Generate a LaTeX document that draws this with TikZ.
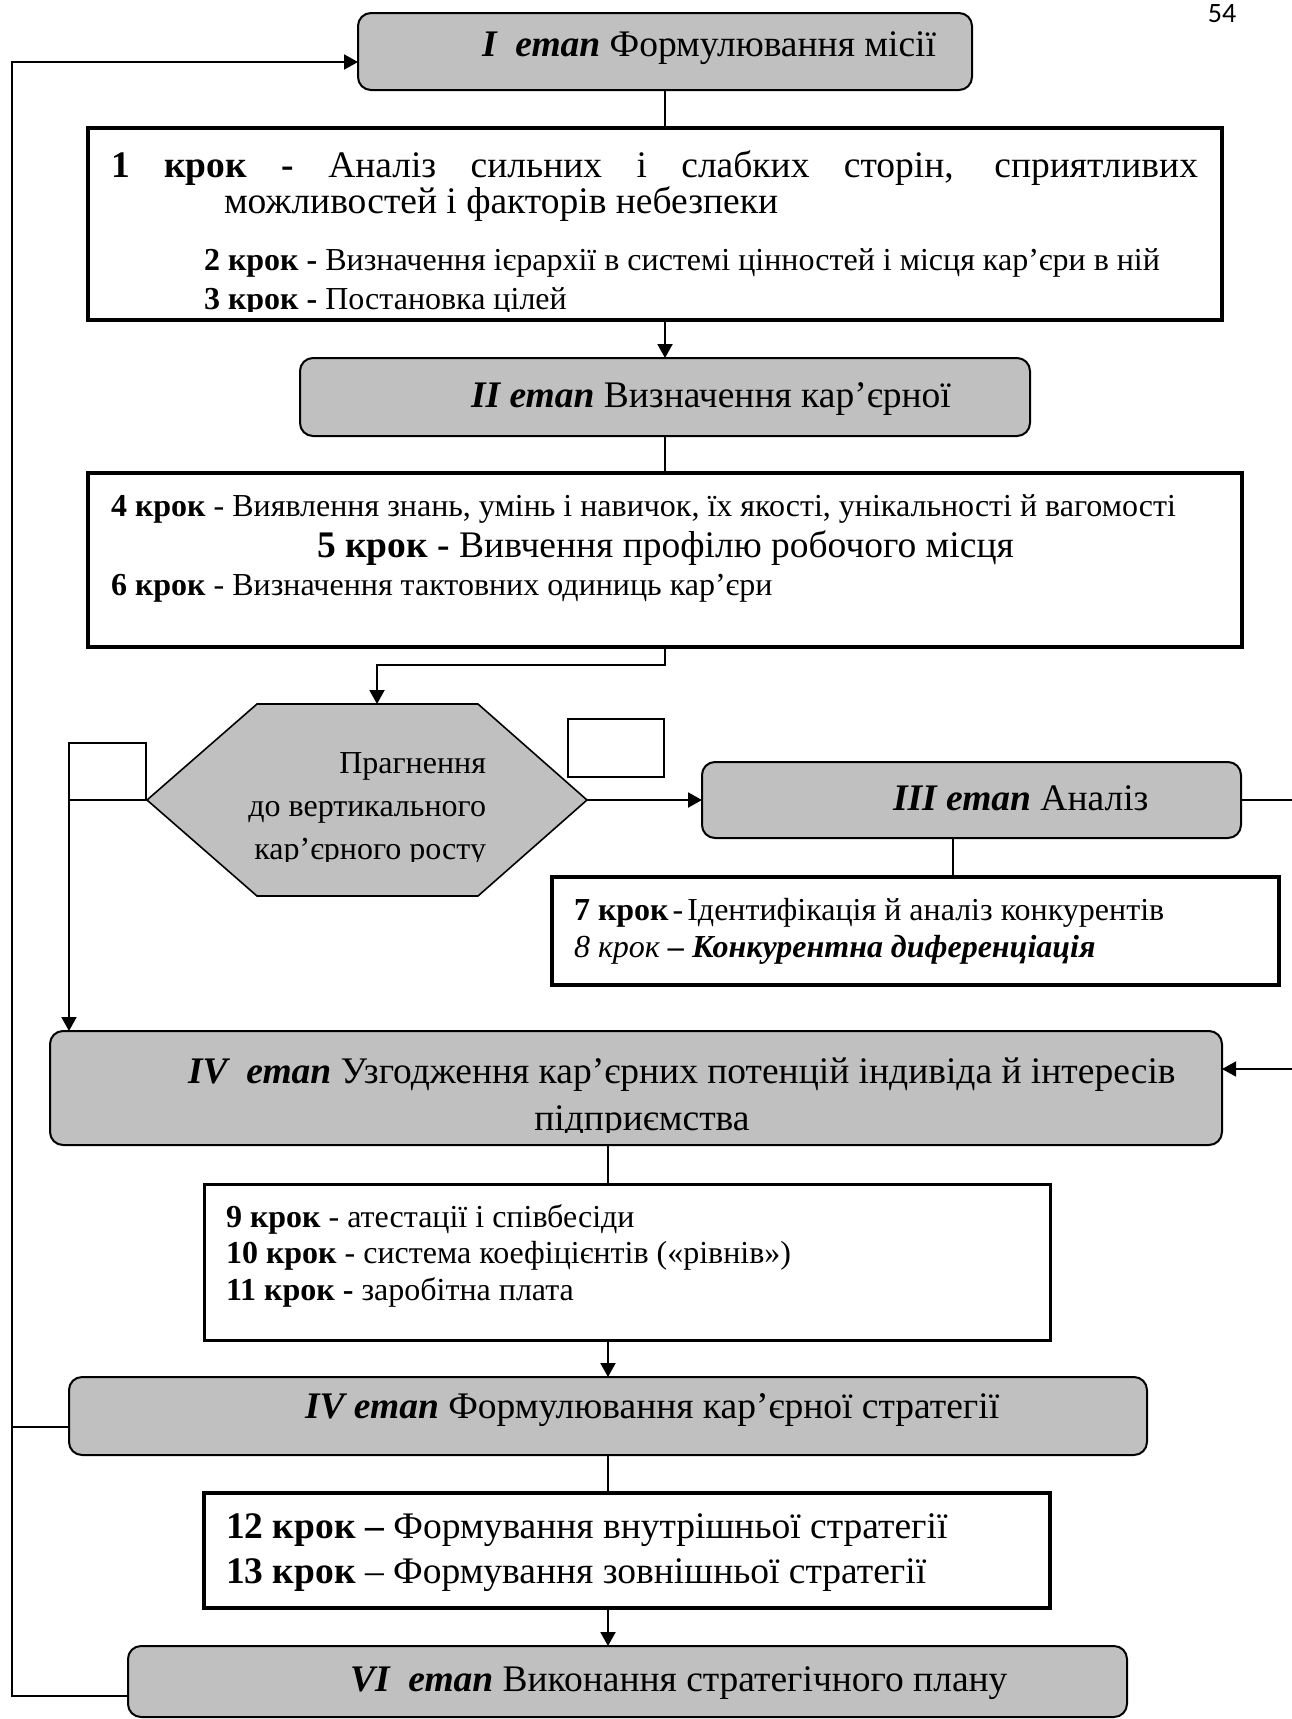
\documentclass[tikz,border=0pt]{standalone}
\usepackage{fontspec}
\setmainfont{Liberation Serif}
\newfontfamily\pagenumfont{Carlito}
\usetikzlibrary{arrows.meta}
\definecolor{stagegray}{RGB}{192,192,192}
\newcommand\titlesize{\fontsize{37.5}{42}\selectfont}
\newcommand\stepsize{\fontsize{32}{37}\selectfont}

\begin{document}
\begin{tikzpicture}[x=1pt,y=-1pt,
  stage/.style={draw, line width=2pt, fill=stagegray, rounded corners=13pt, inner sep=0pt, outer sep=0pt},
  stepbox/.style={draw, line width=3.5pt, fill=white, inner sep=0pt, outer sep=0pt},
  emptybox/.style={draw, line width=1.8pt, fill=white, inner sep=0pt, outer sep=0pt},
  txt/.style={inner sep=0pt, outer sep=0pt, anchor=base west},
  stagetext/.style={txt, font=\titlesize},
  steptext/.style={txt, font=\stepsize},
  bigtext/.style={txt, font=\titlesize},
  link/.style={line width=1.3pt},
  flow/.style={line width=2pt, -{Triangle[length=14pt,width=15pt]}},
]
\useasboundingbox (0,0) rectangle (1291,1719);

% page number
\node[inner sep=0pt, font=\pagenumfont\fontsize{28}{30}\selectfont] (pg) at (1222,14) {54};

% stage I
\node[stage, minimum width=614pt, minimum height=77pt] (e1) at (665,51.5) {};
\node[stagetext] (e1t) at (482,56) {\textbf{\textit{I\ \ етап}} Формулювання місії};

% steps 1-3
\node[stepbox, minimum width=1134pt, minimum height=192pt] (s1) at (655,224) {};
\node[bigtext] (s1a) at (111,177) {\makebox[1087pt][s]{\textbf{1 крок -} Аналіз сильних і слабких сторін, сприятливих}};
\node[bigtext] (s1b) at (224,213) {можливостей і факторів небезпеки};
\node[steptext] (s1c) at (204,270) {\textbf{2 крок -} Визначення ієрархії в системі цінностей і місця кар’єри в ній};
\begin{scope}
  \clip (100,280) rectangle (1210,311);
  \node[steptext] (s1d) at (204,309) {\textbf{3 крок -} Постановка цілей};
\end{scope}

% stage II
\node[stage, minimum width=730pt, minimum height=78pt] (e2) at (665,397) {};
\node[stagetext] (e2t) at (471,407) {\textbf{\textit{II етап}} Визначення кар’єрної};

% steps 4-6
\node[stepbox, minimum width=1154pt, minimum height=174pt] (s2) at (665,560) {};
\node[steptext] (s2a) at (111,516) {\textbf{4 крок} - Виявлення знань, умінь і навичок, їх якості, унікальності й вагомості};
\node[bigtext] (s2b) at (317,557) {\textbf{5 крок -} Вивчення профілю робочого місця};
\node[steptext] (s2c) at (111,595) {\textbf{6 крок} - Визначення тактовних одиниць кар’єри};

% decision hexagon
\coordinate (hxL) at (147,800);
\coordinate (hxR) at (587,800);
\coordinate (hxT) at (377,704);
\draw[line width=1.6pt, fill=stagegray] (257,704) -- (478,704) -- (hxR) -- (478,896) -- (257,896) -- (hxL) -- cycle;
\node[steptext, anchor=base east] (hx1) at (486,773) {Прагнення};
\node[steptext, anchor=base east] (hx2) at (486,816) {до вертикального};
\begin{scope}
  \clip (150,825) rectangle (560,861);
  \node[steptext, anchor=base east] (hx3) at (486,859) {кар’єрного росту};
\end{scope}

% empty boxes beside the hexagon
\node[emptybox, line width=1.5pt, minimum width=77pt, minimum height=57pt] (lb) at (107.5,771.5) {};
\node[emptybox, minimum width=96pt, minimum height=58pt] (sb) at (616,748) {};

% stage III
\node[stage, minimum width=539pt, minimum height=76pt] (e3) at (971.5,800) {};
\node[stagetext] (e3t) at (893,810) {\textbf{\textit{III етап}} Аналіз};

% steps 7-8
\node[stepbox, minimum width=727pt, minimum height=108pt] (s3) at (915.5,931) {};
\node[steptext] (s3a) at (574,920) {\textbf{7 крок}\hspace{4pt}-\hspace{4pt}Ідентифікація й аналіз конкурентів};
\node[steptext] (s3b) at (574,957) {\textit{8 крок} \textbf{\textit{– Конкурентна диференціація}}};

% stage IV
\node[stage, minimum width=1172pt, minimum height=114pt] (e4) at (636,1088) {};
\node[stagetext] (e4a) at (188,1083) {\textbf{\textit{IV\ \ етап}} Узгодження кар’єрних потенцій індивіда й інтересів};
\begin{scope}
  \clip (400,1100) rectangle (900,1132);
  \node[stagetext, anchor=base] (e4b) at (642,1130) {підприємства};
\end{scope}

% steps 9-11
\node[stepbox, line width=3pt, minimum width=846pt, minimum height=156pt] (s4) at (627,1262) {};
\node[steptext] (s4a) at (226,1227) {\textbf{9 крок} - атестації і співбесіди};
\node[steptext] (s4b) at (226,1263) {\textbf{10 крок} - система коефіцієнтів («рівнів»)};
\node[steptext] (s4c) at (226,1300) {\textbf{11 крок -} заробітна плата};

% stage V (labelled IV)
\node[stage, minimum width=1078pt, minimum height=78pt] (e5) at (608,1416) {};
\node[stagetext] (e5t) at (305,1418) {\textbf{\textit{IV етап}} Формулювання кар’єрної стратегії};

% steps 12-13
\node[stepbox, minimum width=846pt, minimum height=115pt] (s5) at (627,1550.5) {};
\node[bigtext] (s5a) at (226,1538) {\textbf{12 крок –} Формування внутрішньої стратегії};
\node[bigtext] (s5b) at (226,1583) {\textbf{13 крок} – Формування зовнішньої стратегії};

% stage VI
\node[stage, minimum width=999pt, minimum height=71pt] (e6) at (627.5,1681.5) {};
\node[stagetext] (e6t) at (350,1691) {\textbf{\textit{VI\ \ етап}} Виконання стратегічного плану};

% connectors
\draw[link] (e1.south) -- (e1.south |- s1.north);
\draw[flow] (e2.north |- s1.south) -- (e2.north);
\draw[link] (e2.south) -- (s2.north);
\draw[flow] (s2.south) -- ++(0,18) -| (hxT);
\draw[flow] (hxR) -- (e3.west);
\draw[flow] (hxL) -- (lb.south west) -- (lb.south west |- e4.north);
\draw[link] ([xshift=-18.5pt]e3.south) -- ([xshift=-18.5pt]e3.south |- s3.north);
\draw[flow, line width=1.5pt] (e3.east) -- ++(60,0) |- ([yshift=19pt]e4.east);
\draw[link] ([xshift=-28pt]e4.south) -- ([xshift=-28pt]e4.south |- s4.north);
\draw[flow] (e5.north |- s4.south) -- (e5.north);
\draw[link] (e5.south) -- (e5.south |- s5.north);
\draw[flow] (e5.south |- s5.south) -- (e5.south |- e6.north);
\draw[flow] ([yshift=-14pt]e6.west) -- ++(-116,0) |- ([yshift=-10.5pt]e1.west);
\draw[link] ([yshift=-11pt]e5.west) -- ++(-57,0);
\end{tikzpicture}
\end{document}
